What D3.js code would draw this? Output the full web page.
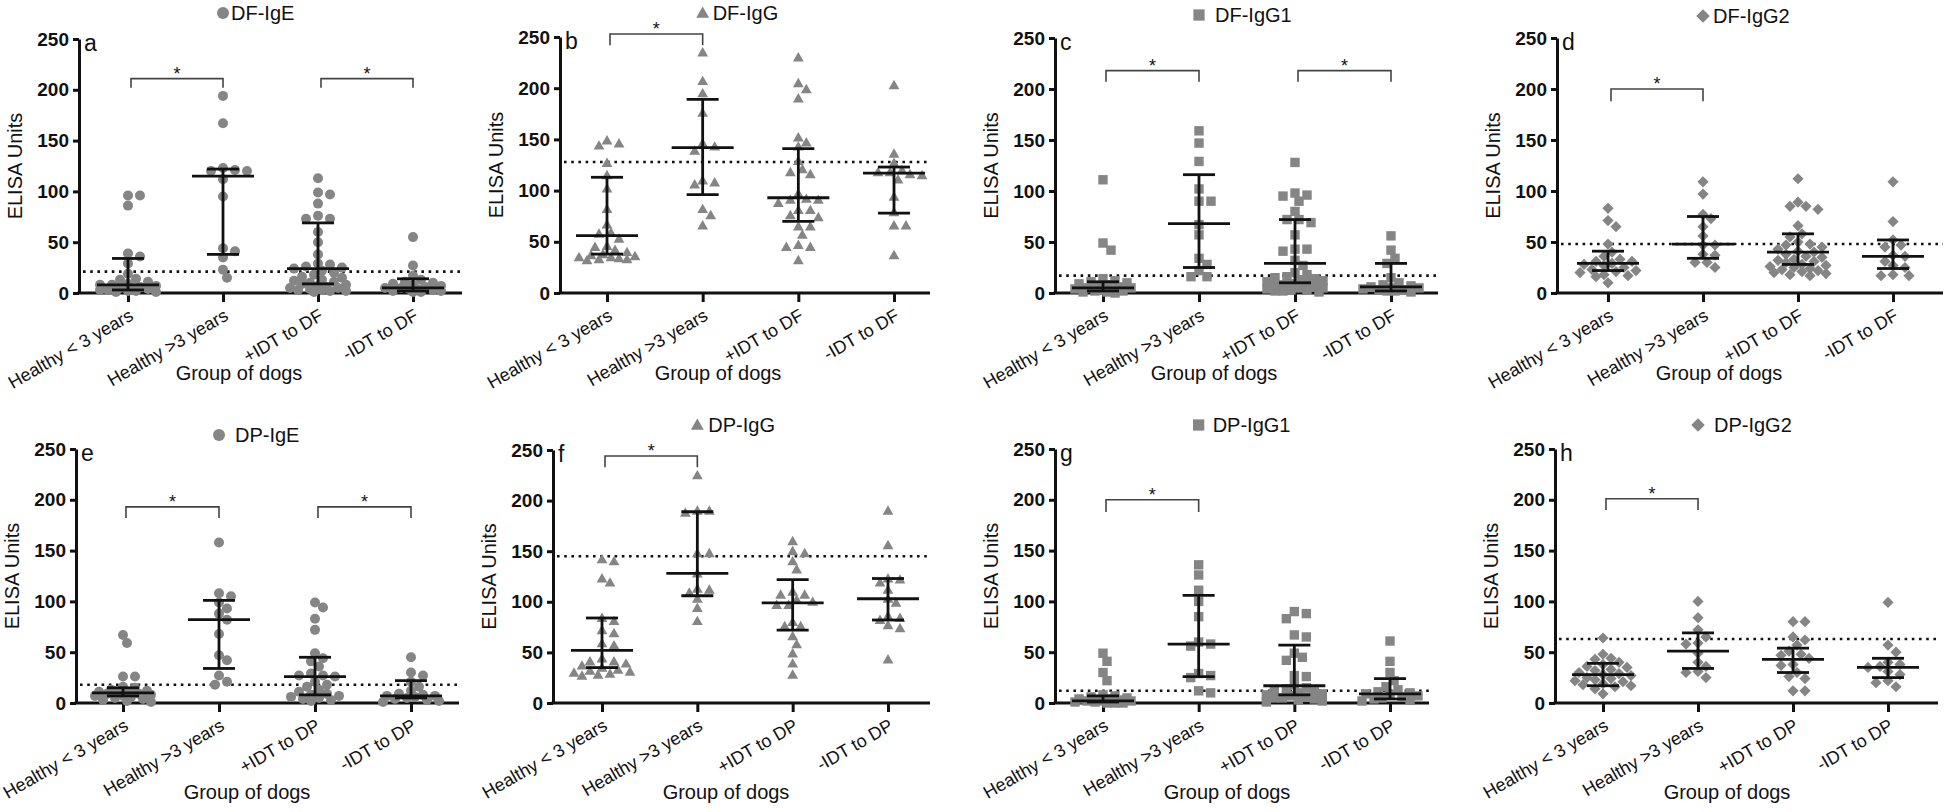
<!DOCTYPE html>
<html><head><meta charset="utf-8">
<script src="https://cdn.jsdelivr.net/npm/d3@7"></script>
<style>
body{margin:0;background:#fff}
text{font-family:"Liberation Sans",Arial,sans-serif}
</style>
</head><body>
<svg id="chart" width="1946" height="812"></svg>
<script>
// ---------------- DATA ----------------
const catsDF = ["Healthy < 3 years", "Healthy >3 years", "+IDT to DF", "-IDT to DF"];
const catsDP = ["Healthy < 3 years", "Healthy >3 years", "+IDT to DP", "-IDT to DP"];
const yTicks = [0, 50, 100, 150, 200, 250];
const titles = ["DF-IgE", "DF-IgG", "DF-IgG1", "DF-IgG2", "DP-IgE", "DP-IgG", "DP-IgG1", "DP-IgG2"];
const letters = ["a", "b", "c", "d", "e", "f", "g", "h"];
const shapes = ["circle", "triangle", "square", "diamond", "circle", "triangle", "square", "diamond"];

const DF_IgE = [
  [96, 96, 86, 39, 36, 29, 19, 14, 13, 11, 9, 8, 8, 7, 6, 5, 5, 4, 3, 3, 2, 2, 1, 1],
  [194, 167, 123, 121, 120, 120, 112, 95, 44, 41, 35, 23, 15],
  [113, 99, 97, 88, 76, 73, 73, 60, 50, 38, 29, 28, 26, 25, 24, 22, 20, 18, 16, 15, 13, 12, 11, 10, 9, 8, 7, 6, 5, 5, 4, 3, 3, 2, 2, 1],
  [55, 27, 17, 13, 11, 10, 9, 8, 7, 6, 5, 5, 4, 4, 3, 2, 2, 1, 1]
];
const DF_IgG = [
  [149, 146, 144, 127, 115, 102, 82, 67, 59, 58, 53, 46, 45, 42, 40, 38, 37, 36, 35, 35, 34, 33, 33, 32],
  [235, 207, 195, 176, 146, 143, 139, 110, 108, 106, 82, 76, 66],
  [230, 205, 199, 190, 152, 147, 143, 129, 121, 118, 116, 97, 92, 91, 91, 88, 81, 81, 76, 74, 65, 65, 57, 47, 45, 45, 32],
  [203, 136, 127, 120, 118, 118, 116, 115, 111, 94, 79, 66, 66, 37]
];
const DF_IgG1 = [
  [111, 49, 42, 14, 12, 11, 10, 9, 8, 7, 6, 5, 5, 4, 3, 3, 2, 2, 1, 1, 0],
  [159, 147, 129, 102, 90, 90, 67, 57, 34, 28, 22, 16, 16],
  [128, 98, 96, 95, 90, 80, 72, 72, 69, 57, 43, 43, 41, 32, 27, 20, 18, 16, 15, 14, 13, 12, 11, 10, 9, 8, 7, 6, 5, 5, 4, 3, 3, 2, 2, 1],
  [56, 42, 34, 29, 15, 10, 8, 7, 6, 5, 5, 4, 3, 3, 2, 2, 1]
];
const DF_IgG2 = [
  [83, 71, 65, 48, 40, 36, 33, 31, 31, 29, 28, 27, 25, 23, 22, 21, 20, 18, 17, 16, 10],
  [109, 97, 77, 73, 65, 56, 47, 47, 38, 37, 30, 30, 25],
  [112, 89, 85, 85, 82, 66, 58, 55, 50, 48, 47, 45, 43, 41, 40, 38, 36, 35, 33, 32, 31, 30, 28, 27, 26, 25, 24, 23, 22, 21, 20, 19, 18, 17],
  [109, 70, 52, 47, 45, 37, 36, 31, 27, 25, 18, 17, 17]
];
const DP_IgE = [
  [67, 59, 26, 26, 16, 15, 13, 12, 11, 10, 10, 9, 9, 8, 7, 7, 6, 5, 4, 3, 2, 1],
  [158, 108, 105, 99, 93, 88, 82, 68, 47, 42, 27, 21, 18],
  [99, 94, 83, 72, 49, 44, 41, 36, 29, 27, 27, 26, 21, 18, 16, 13, 11, 9, 8, 7, 6, 5, 4, 3, 2],
  [45, 30, 27, 21, 16, 12, 9, 8, 7, 7, 6, 5, 4, 3, 2, 1]
];
const DP_IgG = [
  [142, 140, 123, 119, 84, 81, 72, 69, 59, 57, 44, 41, 41, 39, 37, 35, 33, 32, 31, 30, 29, 28, 27],
  [225, 190, 190, 188, 148, 148, 128, 113, 112, 109, 103, 94, 81],
  [160, 150, 148, 140, 132, 110, 107, 107, 102, 100, 97, 97, 80, 76, 76, 66, 58, 49, 39, 28],
  [190, 156, 123, 122, 119, 112, 103, 99, 86, 84, 82, 77, 74, 43]
];
const DP_IgG1 = [
  [49, 41, 30, 22, 8, 7, 6, 5, 4, 4, 3, 3, 2, 2, 2, 1, 1, 1, 0, 0, 0],
  [136, 126, 111, 100, 85, 60, 58, 56, 29, 27, 25, 12, 10],
  [90, 88, 83, 67, 65, 49, 45, 42, 27, 26, 18, 15, 14, 12, 11, 10, 9, 8, 7, 6, 5, 5, 4, 3, 2, 1],
  [61, 41, 30, 22, 16, 13, 11, 10, 9, 8, 7, 6, 5, 4, 3, 2]
];
const DP_IgG2 = [
  [64, 48, 44, 43, 40, 38, 36, 35, 33, 32, 30, 29, 28, 27, 25, 24, 23, 22, 21, 19, 18, 17, 16, 14, 9],
  [100, 84, 72, 65, 59, 58, 49, 40, 36, 31, 30, 25],
  [80, 80, 65, 62, 57, 51, 48, 47, 44, 38, 37, 30, 26, 24, 12, 12],
  [99, 57, 50, 40, 38, 36, 35, 31, 28, 22, 20, 16]
];

// median, 25th and 75th percentile per panel
const medians = [[8,115,24,5],[56,142,93,117],[5,68,29,6],[29,48,40,36],[10,82,26,7],[52,128,99,103],[2,58,17,9],[28,51,43,35]];
const q1s     = [[3,38,9,2],[38,96,70,78],[2,25,10,2],[22,34,28,24],[7,34,8,5],[35,106,72,82],[1,26,8,4],[17,34,30,25]];
const q3s     = [[34,122,69,14],[113,189,141,123],[11,116,72,29],[41,75,58,52],[15,101,45,22],[84,189,122,123],[7,106,57,24],[39,69,54,44]];
const cutoffs = [21, 128, 17, 48, 18, 145, 12, 63];
// significance brackets: [from group, to group, bar height, leg end]
const brackets = [
  [[0,1,211,202],[2,3,211,202]],
  [[0,1,253,242]],
  [[0,1,218,207],[2,3,218,207]],
  [[0,1,200,188]],
  [[0,1,193,182],[2,3,193,182]],
  [[0,1,244,233]],
  [[0,1,200,188]],
  [[0,1,201,190]]
];
const panelData = [DF_IgE, DF_IgG, DF_IgG1, DF_IgG2, DP_IgE, DP_IgG, DP_IgG1, DP_IgG2];

// ---------------- LAYOUT ----------------
const layout = [
  {ax:79,   c0:128,  c3:413,  xEnd:462,  y0:293, yTop:39,  tY:13,  gap:8,  row:0},
  {ax:560,  c0:607,  c3:894,  xEnd:930,  y0:293, yTop:37,  tY:13,  gap:10, row:0},
  {ax:1055, c0:1103, c3:1391, xEnd:1438, y0:293, yTop:38,  tY:15,  gap:16, row:0},
  {ax:1557, c0:1608, c3:1893, xEnd:1943, y0:293, yTop:38,  tY:16,  gap:10, row:0},
  {ax:76,   c0:123,  c3:411,  xEnd:459,  y0:703, yTop:449, tY:435, gap:16, row:1},
  {ax:553,  c0:602,  c3:888,  xEnd:930,  y0:703, yTop:450, tY:425, gap:11, row:1},
  {ax:1055, c0:1103, c3:1390, xEnd:1429, y0:703, yTop:449, tY:425, gap:14, row:1},
  {ax:1555, c0:1603, c3:1888, xEnd:1938, y0:703, yTop:449, tY:425, gap:16, row:1}
];

const svg = d3.select("#chart");
const PT = "#858585";
const INK = "#111";
const FONT = '"Liberation Sans",Arial,sans-serif';

function symbolPath(shape, s) {
  if (shape === "circle") { const r = 5 * s; return `M${-r},0a${r},${r} 0 1,0 ${2*r},0a${r},${r} 0 1,0 ${-2*r},0Z`; }
  if (shape === "triangle") { const h = 5.4 * s; return `M0,${-h}L${h},${h*0.75}L${-h},${h*0.75}Z`; }
  if (shape === "square") { const h = 4.7 * s; return `M${-h},${-h}H${h}V${h}H${-h}Z`; }
  const d = 5.6 * s; return `M0,${-d}L${d},0L0,${d}L${-d},0Z`;
}

// beeswarm placement limited to a maximum half-width; dense clusters overlap
function swarm(vals, y, cx, minD, step, maxOff) {
  const sorted = vals.slice().sort((a, b) => b - a);
  const placed = [];
  const cands = [0];
  for (let k = 1; k * step <= maxOff; k++) { cands.push(k * step, -k * step); }
  sorted.forEach((v, i) => {
    const py = y(v);
    let best = null, bestD = -1;
    for (const off of cands) {
      const px = cx + off;
      let md = Infinity;
      placed.forEach(p => { const d = Math.hypot(p.x - px, p.y - py); if (d < md) md = d; });
      if (md >= minD) { best = px; bestD = md; break; }
      if (md > bestD + 0.5) { bestD = md; best = px; }
    }
    placed.push({x: best, y: py, v});
  });
  return placed;
}

panelData.forEach((groups, pi) => {
  const L = layout[pi];
  const cats = pi < 4 ? catsDF : catsDP;
  const y = d3.scaleLinear().domain([0, 250]).range([L.y0, L.yTop]);
  const x = d3.scalePoint().domain(cats).range([L.c0, L.c3]);
  const g = svg.append("g");

  // title legend
  const sx = x(cats[1]);
  g.append("path").attr("d", symbolPath(shapes[pi], 1.2)).attr("transform", `translate(${sx},${L.tY})`).attr("fill", PT);
  g.append("text").attr("x", sx + L.gap).attr("y", L.tY + 7).attr("font-size", 20).attr("fill", INK).text(titles[pi]);

  // panel letter
  g.append("text").attr("x", L.ax + 5).attr("y", L.yTop + 12).attr("font-size", 23).attr("fill", INK).text(letters[pi]);

  // y axis
  const ya = g.append("g").attr("transform", `translate(${L.ax},0)`)
    .call(d3.axisLeft(y).tickValues(yTicks).tickSize(6).tickSizeOuter(0).tickPadding(4));
  ya.attr("font-family", FONT);
  ya.select(".domain").attr("stroke", INK).attr("stroke-width", 3);
  ya.selectAll(".tick line").attr("stroke", INK).attr("stroke-width", 3);
  ya.selectAll(".tick text").style("font-size", "19px").style("font-weight", "bold").attr("fill", INK);

  // x axis
  const xa = g.append("g").attr("transform", `translate(0,${L.y0})`)
    .call(d3.axisBottom(x).tickSize(9).tickSizeOuter(0));
  xa.attr("font-family", FONT);
  xa.select(".domain").remove();
  xa.selectAll(".tick line").attr("stroke", INK).attr("stroke-width", 3);
  xa.selectAll(".tick text").style("font-size", "18px").attr("fill", INK)
    .attr("text-anchor", "end").attr("x", 0).attr("y", 0).attr("dy", 0)
    .attr("transform", "translate(6,26) rotate(-30)");
  g.append("line").attr("x1", L.ax - 1.5).attr("x2", L.xEnd).attr("y1", L.y0).attr("y2", L.y0)
    .attr("stroke", INK).attr("stroke-width", 3);

  // axis titles
  g.append("text").attr("transform", `translate(${L.ax - 64},${(L.y0 + L.yTop) / 2}) rotate(-90)`)
    .attr("text-anchor", "middle").attr("dominant-baseline", "central").attr("font-size", 20).attr("fill", INK).text("ELISA Units");
  g.append("text").attr("x", L.c0 + (L.row ? 124 : 111)).attr("y", L.y0 + (L.row ? 96 : 87))
    .attr("text-anchor", "middle").attr("font-size", 20).attr("fill", INK).text("Group of dogs");

  // cutoff dotted line
  g.append("line").attr("x1", L.ax + 4).attr("x2", L.xEnd).attr("y1", y(cutoffs[pi])).attr("y2", y(cutoffs[pi]))
    .attr("stroke", INK).attr("stroke-width", 2.6).attr("stroke-dasharray", "2.6,4.6");

  // points
  groups.forEach((vals, gi) => {
    const pts = swarm(vals, y, x(cats[gi]), 8.6, 4, 28);
    g.append("g").selectAll("path").data(pts).join("path")
      .attr("d", symbolPath(shapes[pi], 1))
      .attr("transform", d => `translate(${d.x},${d.y})`)
      .attr("fill", PT);
  });

  // median + IQR
  cats.forEach((c, gi) => {
    const cx = x(c);
    const eb = g.append("g").attr("stroke", INK).attr("stroke-width", 2.8).attr("fill", "none");
    eb.append("line").attr("x1", cx).attr("x2", cx).attr("y1", y(q1s[pi][gi])).attr("y2", y(q3s[pi][gi]));
    eb.append("line").attr("x1", cx - 31).attr("x2", cx + 31).attr("y1", y(medians[pi][gi])).attr("y2", y(medians[pi][gi]));
    eb.append("line").attr("x1", cx - 16).attr("x2", cx + 16).attr("y1", y(q1s[pi][gi])).attr("y2", y(q1s[pi][gi]));
    eb.append("line").attr("x1", cx - 16).attr("x2", cx + 16).attr("y1", y(q3s[pi][gi])).attr("y2", y(q3s[pi][gi]));
  });

  // significance brackets
  brackets[pi].forEach(b => {
    const x1 = x(cats[b[0]]) + 3, x2 = x(cats[b[1]]);
    g.append("path").attr("d", `M${x1},${y(b[3])}V${y(b[2])}H${x2}V${y(b[3])}`)
      .attr("fill", "none").attr("stroke", "#444").attr("stroke-width", 1.6);
    g.append("text").attr("x", (x1 + x2) / 2).attr("y", y(b[2]) + 1).attr("text-anchor", "middle")
      .attr("font-size", 18).attr("fill", INK).text("*");
  });
});
</script>
</body></html>
